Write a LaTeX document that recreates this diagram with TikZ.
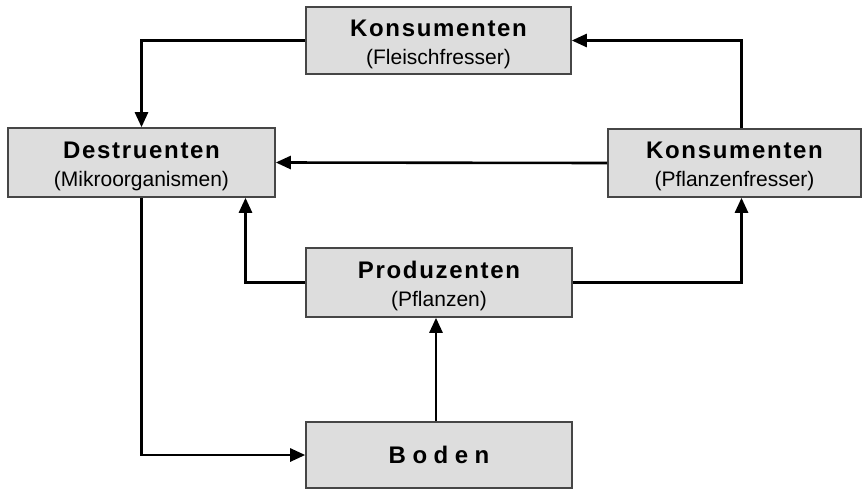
\documentclass[tikz,border=0pt]{standalone}
\usepackage{fontspec}
\setmainfont{Liberation Sans}
\newfontfamily\headfont[LetterSpace=7]{Liberation Sans}
\newfontfamily\bodenfont[LetterSpace=27]{Liberation Sans}
\usepackage{xcolor}
\usetikzlibrary{arrows.meta, positioning}
\definecolor{BoxFill}{RGB}{221, 221, 221}
\definecolor{BoxLine}{RGB}{70, 70, 70}

\tikzset{
  level/.style={draw=BoxLine, fill=BoxFill, line width=1.6pt, minimum width=266pt,
                minimum height=68pt, align=center, inner sep=0pt,
                font=\fontsize{21}{28}\selectfont},
  flow/.style={draw=black, line width=2.6pt, -{Triangle[length=15pt, width=13pt]}}
}
\newcommand{\lvl}[2]{{\headfont\bfseries\fontsize{24}{28}\selectfont\rule{0pt}{24pt}#1}\\#2}

\begin{document}
\begin{tikzpicture}[x=1pt, y=-1pt]
  \useasboundingbox (0,0) rectangle (864,490);
  \fill[white] (0,0) rectangle (864,490);

  % the five trophic levels
  \node[level, minimum width=265pt, minimum height=67pt] (fleisch) at (438.5,40.5)
        {\lvl{Konsumenten}{(Fleischfresser)}};
  \node[level, minimum width=267pt, minimum height=69pt] (destr) at (141.5,162.5)
        {\lvl{Destruenten}{(Mikroorganismen)}};
  \node[level, minimum width=253pt, minimum height=68pt] (pflanz) at (734.5,163)
        {\lvl{Konsumenten}{(Pflanzenfresser)}};
  \node[level, minimum height=69pt] (prod) at (439,282.5)
        {\lvl{Produzenten}{(Pflanzen)}};
  \node[level, minimum height=66pt] (boden) at (439,455)
        {\bodenfont\bfseries\fontsize{24}{28}\selectfont Boden};

  % flows of matter
  \draw[flow] (fleisch.west) -| (destr.north);
  \draw[flow] ([xshift=7pt]pflanz.north) |- (fleisch.east);
  \draw[flow] (pflanz.west) -- (destr.east);
  \draw[flow] (prod.west) -| ([xshift=104pt]destr.south);
  \draw[flow] (prod.east) -| ([xshift=7pt]pflanz.south);
  \draw[flow] (destr.south) |- (boden.west);
  \draw[flow] ([xshift=-3pt]boden.north) -- ([xshift=-3pt]prod.south);
\end{tikzpicture}
\end{document}
